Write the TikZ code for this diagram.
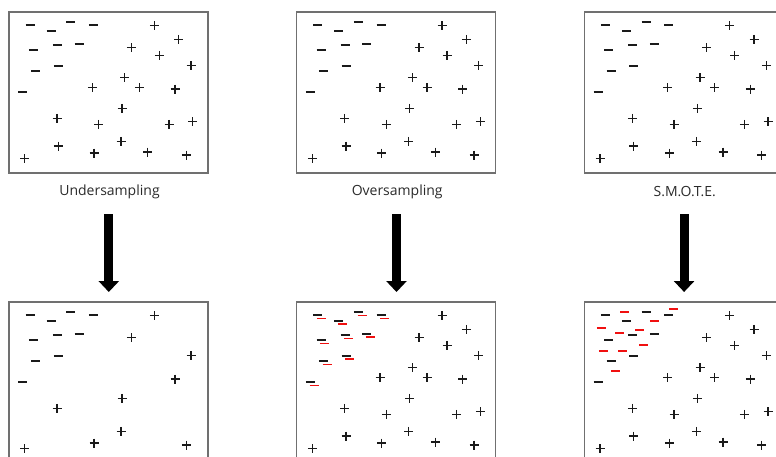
\documentclass[tikz,border=0pt]{standalone}
\usepackage{fontspec}
\setmainfont{Open Sans}
\usetikzlibrary{positioning, arrows.meta}
\definecolor{frame}{HTML}{707070}
\definecolor{ink}{HTML}{1A1A1A}
\definecolor{labelgray}{HTML}{2A2A2A}
\definecolor{synth}{HTML}{F01010}

% point sets, offsets from the upper left corner of a box
\newcommand\negpts{21/13, 42/18.7, 61.7/10, 84.3/13, 24.3/38, 48.3/33, 70/31.7, 26.7/59, 49.3/53.7, 13.7/80}
\newcommand\pospts{145.3/13.7, 169.7/27.3, 122.3/35.7, 150.3/43.3, 182/53.7, 115.7/65.7, 83.3/75.7, 130.3/75.7, 166/77, 113/96.3, 48/106.3, 89.7/112.3, 160/112.3, 183.7/109.7, 49.3/134, 112/129.3, 85/141, 138.7/140, 177.3/143, 15.7/146.7}
\newcommand\keptpts{145.3/13.7, 122.3/35.7, 182/53.7, 166/77, 113/96.3, 48/106.3, 112/129.3, 85/141, 177.3/143, 15.7/146.7}
\newcommand\smotepts{40.6/10.3, 70/18.7, 89.3/7.3, 17/26.3, 35.6/30.7, 55.3/27.7, 59.6/42.7, 19/49.3, 38.3/48.7, 31/69.3}

\tikzset{
  negmark/.pic={\draw[line width=1.7pt] (-4.5,0) -- (4.5,0);},
  posmark/.pic={\draw[line width=1.5pt] (-4.5,0) -- (4.5,0) (0,-4.5) -- (0,4.5);}
}

\begin{document}
\begin{tikzpicture}[
  x=1pt, y=-1pt,
  box/.style={draw=frame, line width=1.4pt, minimum width=199pt, minimum height=161pt,
    inner sep=0pt, outer sep=0pt},
  lbl/.style={font=\fontsize{14}{16}\selectfont, text=labelgray},
  bigarrow/.style={line width=9pt, -{Triangle[length=11pt, width=20pt]}, shorten >=10pt}
]
  \clip (0,0) rectangle (776,456);

  \foreach \i/\cx/\txt in {1/108.5/Undersampling, 2/396.2/Oversampling, 3/683.8/S.M.O.T.E.} {
    \node[box] (top\i) at (\cx,92.5) {};
    \node[box] (bot\i) at (\cx,382.5) {};
    \node[lbl] (lab\i) at (\cx+1,192) {\txt};
    \coordinate (arr\i) at (\cx+0.3,214);
    \draw[bigarrow] (arr\i) -- (arr\i |- bot\i.north);
  }

  % original data, same in all three upper boxes
  \foreach \i in {1,2,3} {
    \begin{scope}[shift={(top\i.north west)}, ink]
      \foreach \px/\py in \negpts { \pic at (\px,\py) {negmark}; }
      \foreach \px/\py in \pospts { \pic at (\px,\py) {posmark}; }
    \end{scope}
  }

  % undersampling
  \begin{scope}[shift={(bot1.north west)}, ink]
    \foreach \px/\py in \negpts { \pic at (\px,\py) {negmark}; }
    \foreach \px/\py in \keptpts { \pic at (\px,\py) {posmark}; }
  \end{scope}

  % oversampling: copies of the minority class
  \begin{scope}[shift={(bot2.north west)}]
    \foreach \px/\py in \negpts {
      \pic[ink] at (\px,\py) {negmark};
      \pic[synth] at (\px+3.7,\py+3.4) {negmark};
    }
    \foreach \px/\py in \pospts { \pic[ink] at (\px,\py) {posmark}; }
  \end{scope}

  % smote: synthetic points in between
  \begin{scope}[shift={(bot3.north west)}]
    \foreach \px/\py in \negpts { \pic[ink] at (\px,\py) {negmark}; }
    \foreach \px/\py in \smotepts { \pic[synth] at (\px,\py) {negmark}; }
    \foreach \px/\py in \pospts { \pic[ink] at (\px,\py) {posmark}; }
  \end{scope}
\end{tikzpicture}
\end{document}
